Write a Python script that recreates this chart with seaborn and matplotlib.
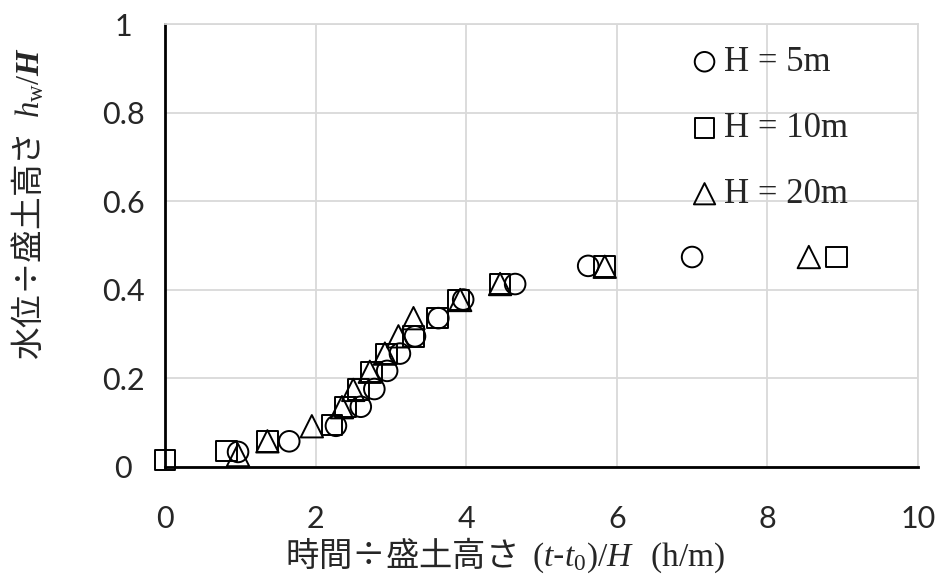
import matplotlib
matplotlib.use("Agg")
import matplotlib.pyplot as plt
import seaborn as sns
import pandas as pd

# Series: normalised elapsed time vs normalised water level for three embankment heights
h5_x = [0.97, 1.65, 2.27, 2.60, 2.78, 2.95, 3.12, 3.32, 3.63, 3.96, 4.65, 5.62, 7.00]
h5_y = [0.034, 0.058, 0.093, 0.136, 0.176, 0.217, 0.256, 0.295, 0.336, 0.378, 0.413, 0.454, 0.474]

h10_x = [0.00, 0.82, 1.36, 2.22, 2.40, 2.57, 2.74, 2.94, 3.30, 3.62, 3.90, 4.45, 5.84, 8.92]
h10_y = [0.016, 0.036, 0.058, 0.095, 0.135, 0.175, 0.214, 0.255, 0.295, 0.336, 0.377, 0.413, 0.452, 0.474]

h20_x = [0.97, 1.36, 1.95, 2.35, 2.50, 2.72, 2.92, 3.10, 3.30, 3.92, 4.45, 5.84, 8.55]
h20_y = [0.027, 0.058, 0.092, 0.135, 0.174, 0.215, 0.256, 0.295, 0.336, 0.377, 0.413, 0.452, 0.474]

labels = ["H = 5m", "H = 10m", "H = 20m"]
markers = ["o", "s", "^"]

x_ticks = [0, 2, 4, 6, 8, 10]
y_ticks = [0, 0.2, 0.4, 0.6, 0.8, 1.0]
y_tick_labels = ["0", "0.2", "0.4", "0.6", "0.8", "1"]

sns.set_style("white")
plt.rcParams["font.family"] = ["Noto Sans CJK JP", "DejaVu Sans"]
plt.rcParams["mathtext.fontset"] = "custom"
plt.rcParams["mathtext.rm"] = "Liberation Serif"
plt.rcParams["mathtext.it"] = "Liberation Serif:italic"
plt.rcParams["mathtext.bf"] = "Liberation Serif:italic:bold"

fig = plt.figure(figsize=(9.44, 5.84), dpi=100)
ax = fig.add_axes([165 / 944, 1 - 467 / 584, 753 / 944, 443 / 584])

frames = [
    pd.DataFrame({"x": h5_x, "y": h5_y}),
    pd.DataFrame({"x": h10_x, "y": h10_y}),
    pd.DataFrame({"x": h20_x, "y": h20_y}),
]
for df, lab, mk in zip(frames, labels, markers):
    sns.scatterplot(data=df, x="x", y="y", marker=mk, s=220 if mk != "^" else 260,
                    facecolors="none", edgecolors="black", linewidths=1.4,
                    label=lab, ax=ax, zorder=3, clip_on=False)

ax.set_xlim(0, 10)
ax.set_ylim(0, 1)
ax.set_xticks(x_ticks)
ax.set_yticks(y_ticks)
ax.set_yticklabels(y_tick_labels)
ax.grid(True, color="#d9d9d9", linewidth=1.3)
ax.set_axisbelow(True)
for side in ("top", "right"):
    ax.spines[side].set_color("#d9d9d9")
    ax.spines[side].set_linewidth(1.3)
for side in ("left", "bottom"):
    ax.spines[side].set_color("black")
    ax.spines[side].set_linewidth(2)

for t in ax.get_xticklabels() + ax.get_yticklabels():
    t.set_fontfamily("Lato")
    t.set_fontsize(22)
for t in ax.get_yticklabels():
    t.set_horizontalalignment("center")
ax.tick_params(axis="x", length=0, pad=27)
ax.tick_params(axis="y", length=0, pad=30)

ax.set_xlabel(r"時間÷盛土高さ $\;(\mathit{t}$-$\mathit{t}_0)/\mathit{H}\ \ \,\mathrm{(h/m)}$", fontsize=24)
ax.set_ylabel(r"水位÷盛土高さ $\;\mathit{h}_\mathrm{w}/\mathbf{H}$", fontsize=23.5)
ax.xaxis.set_label_coords((505 - 165) / 753, -(555 - 467) / 443)
ax.yaxis.set_label_coords(-(165 - 28) / 753, (467 - 203) / 443)
ax.xaxis.label.set_verticalalignment("center")
ax.yaxis.label.set_verticalalignment("center")

leg = ax.legend(loc="upper right", bbox_to_anchor=(0.925, 0.982), frameon=False,
                prop={"family": "Liberation Serif", "size": 25},
                markerscale=0.95, handletextpad=0.1, labelspacing=0.95,
                handlelength=0.9, borderaxespad=0)

fig.savefig("out.png", dpi=100)
